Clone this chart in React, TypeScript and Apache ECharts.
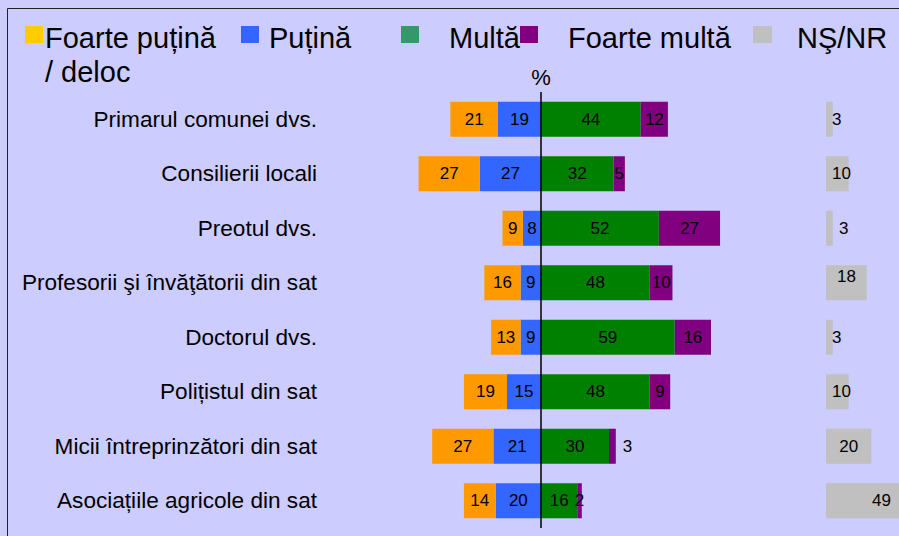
import React, { useEffect, useRef } from "react";
import * as echarts from "echarts";

const categories = [
  "Primarul comunei dvs.",
  "Consilierii locali",
  "Preotul dvs.",
  "Profesorii şi învăţătorii din sat",
  "Doctorul dvs.",
  "Polițistul din sat",
  "Micii întreprinzători din sat",
  "Asociațiile agricole din sat",
];
const foartePutina = [21, 27, 9, 16, 13, 19, 27, 14];
const putina = [19, 27, 8, 9, 9, 15, 21, 20];
const multa = [44, 32, 52, 48, 59, 48, 30, 16];
const foarteMulta = [12, 5, 27, 10, 16, 9, 3, 2];
const nsnr = [3, 10, 3, 18, 3, 10, 20, 49];
const seriesNames = ["Foarte puțină / deloc", "Puțină", "Multă", "Foarte multă", "NŞ/NR"];

const FONT = "'Liberation Sans', Arial, Helvetica, sans-serif";
const BAR_COLORS = ["#FF9900", "#3366FF", "#008000", "#800080", "#C0C0C0"];
const LEGEND_COLORS = ["#FFCC00", "#3366FF", "#339966", "#800080", "#C0C0C0"];

// px per unit on the main axis: 408 px for 180 units
const PX_PER_UNIT = 408 / 180;

export default function App() {
  const ref = useRef<HTMLDivElement>(null);
  useEffect(() => {
    if (!ref.current) return;
    const chart = echarts.init(ref.current, undefined, { renderer: "svg" });
    const labelBase = {
      show: true,
      position: "inside" as const,
      color: "#000",
      fontSize: 17,
      fontFamily: FONT,
      formatter: (p: any) => String(Math.abs(p.value)),
    };

    const grayData = nsnr.map((v, i) => {
      const label: any = {};
      if (v < 15) {
        label.position = "insideLeft";
        label.distance = 6;
      }
      if (i === 2) label.offset = [7, 0];
      if (i === 3) label.offset = [0, -6];
      return { value: v, label };
    });

    const purpleData = foarteMulta.map((v, i) =>
      i === 6 ? { value: v, label: { position: "right", distance: 7 } } : { value: v }
    );

    const legendItems = [
      { sx: 25, tx: 45 },
      { sx: 241, tx: 269 },
      { sx: 401, tx: 449 },
      { sx: 520, tx: 568 },
      { sx: 753, tx: 797 },
    ];
    const legendGraphics: any[] = [];
    seriesNames.forEach((name, i) => {
      legendGraphics.push({
        type: "rect",
        shape: { x: legendItems[i].sx, y: 26, width: i === 4 ? 19 : 18, height: 17 },
        style: { fill: LEGEND_COLORS[i] },
        silent: true,
      });
      legendGraphics.push({
        type: "text",
        x: legendItems[i].tx,
        y: 21,
        style: {
          text: i === 0 ? "Foarte puțină\n/ deloc" : name,
          fontSize: 29,
          fontFamily: FONT,
          fill: "#000",
          lineHeight: 34,
          align: "left",
          verticalAlign: "top",
        },
        silent: true,
      });
    });

    const grayLeft = 826;
    const grayWidth = 899 - grayLeft;

    chart.setOption({
      animation: false,
      backgroundColor: "#CCCCFF",
      textStyle: { fontFamily: FONT },
      grid: [
        { left: 337, top: 92, width: 408, height: 436 },
        { left: grayLeft, top: 92, right: 0, height: 436 },
      ],
      xAxis: [
        { type: "value", gridIndex: 0, min: -90, max: 90, show: false },
        {
          type: "value",
          gridIndex: 1,
          min: 0,
          max: grayWidth / PX_PER_UNIT,
          show: false,
        },
      ],
      yAxis: [
        {
          type: "category",
          gridIndex: 0,
          data: categories,
          inverse: true,
          axisLine: { show: false },
          axisTick: { show: false },
          axisLabel: { fontSize: 22.6, color: "#000", fontFamily: FONT, margin: 20 },
        },
        { type: "category", gridIndex: 1, data: categories, inverse: true, show: false },
      ],
      graphic: [
        {
          type: "rect",
          shape: { x: 7.5, y: 8.5, width: 1200, height: 1200 },
          style: { fill: "none", stroke: "#222", lineWidth: 1 },
          silent: true,
        },
        {
          type: "text",
          x: 541,
          y: 77,
          style: {
            text: "%",
            fontSize: 22,
            fontFamily: FONT,
            fill: "#000",
            align: "center",
            verticalAlign: "middle",
          },
          silent: true,
        },
        ...legendGraphics,
      ],
      series: [
        {
          name: seriesNames[1],
          type: "bar",
          stack: "s",
          barWidth: 35,
          xAxisIndex: 0,
          yAxisIndex: 0,
          data: putina.map((v) => -v),
          itemStyle: { color: BAR_COLORS[1] },
          label: labelBase,
        },
        {
          name: seriesNames[0],
          type: "bar",
          stack: "s",
          barWidth: 35,
          xAxisIndex: 0,
          yAxisIndex: 0,
          data: foartePutina.map((v) => -v),
          itemStyle: { color: BAR_COLORS[0] },
          label: labelBase,
        },
        {
          name: seriesNames[2],
          type: "bar",
          stack: "s",
          barWidth: 35,
          xAxisIndex: 0,
          yAxisIndex: 0,
          data: multa,
          itemStyle: { color: BAR_COLORS[2] },
          label: labelBase,
          markLine: {
            silent: true,
            symbol: "none",
            label: { show: false },
            lineStyle: { color: "#000", width: 1.5, type: "solid" },
            data: [{ xAxis: 0 }],
          },
        },
        {
          name: seriesNames[3],
          type: "bar",
          stack: "s",
          barWidth: 35,
          xAxisIndex: 0,
          yAxisIndex: 0,
          data: purpleData,
          itemStyle: { color: BAR_COLORS[3] },
          label: labelBase,
        },
        {
          name: seriesNames[4],
          type: "bar",
          barWidth: 35,
          xAxisIndex: 1,
          yAxisIndex: 1,
          clip: false,
          data: grayData,
          itemStyle: { color: BAR_COLORS[4] },
          label: labelBase,
        },
      ],
    });
    return () => chart.dispose();
  }, []);
  return (
    <div
      ref={ref}
      style={{ position: "fixed", left: 0, top: 0, width: 899, height: 536 }}
    />
  );
}
